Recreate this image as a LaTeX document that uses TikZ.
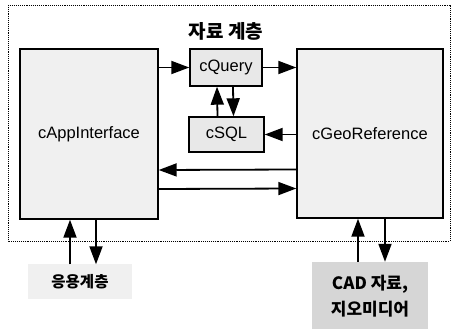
\documentclass[tikz,border=0pt]{standalone}
\usepackage{fontspec}
\setmainfont{Liberation Sans}
\newfontfamily\kr{Noto Sans CJK KR}
\usetikzlibrary{arrows.meta}
\tikzset{
  cls/.style={draw=black, line width=1.4pt, fill=gray!12, font=\fontsize{16.5}{18}\selectfont, inner sep=0pt},
  small/.style={cls, fill=gray!18},
  arr/.style={line width=1.8pt, -{Triangle[length=18pt,width=13pt]}},
  krtext/.style={font=\kr\bfseries\fontsize{15.5}{22}\selectfont, inner sep=0pt, align=center}
}
\begin{document}
\begin{tikzpicture}[x=1pt,y=-1pt]
\useasboundingbox (0,0) rectangle (451,329);
% data layer frame
\draw[line width=0.9pt, densely dotted] (8,5) rectangle (450,241);
\node[krtext, font=\kr\bfseries\fontsize{19}{22}\selectfont] (title) at (226,31) {자료 계층};
% classes
\node[cls, minimum width=138pt, minimum height=170pt] (app) at (89,134) {cAppInterface};
\node[cls, minimum width=146pt, minimum height=169pt] (geo) at (370,133.5) {cGeoReference};
\node[small, minimum width=72pt, minimum height=37pt] (query) at (226,67.5) {cQuery};
\node[small, minimum width=75pt, minimum height=35pt] (sql) at (226.5,134.5) {cSQL};
% outside elements
\node[krtext, fill=gray!12, minimum width=104pt, minimum height=35pt] (apl) at (80,282) {응용계층};
\node[krtext, font=\kr\bfseries\fontsize{17}{26}\selectfont, fill=gray!32, minimum width=116pt, minimum height=68pt] (cad) at (370,296) {CAD 자료,\\지오미디어};
% connectors
\draw[arr] (app.east |- query.west) -- (query.west);
\draw[arr] (query.east) -- (geo.west |- query.east);
\draw[arr] ([xshift=-9pt]sql.north) -- ([xshift=-9pt]query.south);
\draw[arr] ([xshift=7pt]query.south) -- ([xshift=7pt]sql.north);
\draw[arr] (geo.west |- sql.east) -- (sql.east);
\draw[arr] ([yshift=-36pt]geo.west) -- ([yshift=-36pt]app.east);
\draw[arr] ([yshift=-55pt]app.east) -- ([yshift=-55pt]geo.west);
\draw[arr] ([xshift=-10pt]apl.north) -- ([xshift=-19pt]app.south);
\draw[arr] ([xshift=7pt]app.south) -- ([xshift=16pt]apl.north);
\draw[arr] ([xshift=-12pt]cad.north) -- ([xshift=-12pt]geo.south);
\draw[arr] ([xshift=15pt]geo.south) -- ([xshift=15pt]cad.north);
\end{tikzpicture}
\end{document}
